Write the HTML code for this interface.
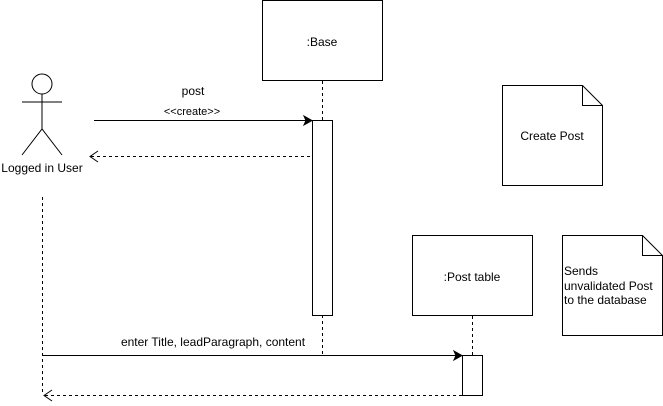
<!DOCTYPE html>
<html><head><meta charset="utf-8"><style>
html,body{margin:0;padding:0;background:#fff;}
svg{display:block;}
text{font-family:"Liberation Sans",Arial,sans-serif;font-size:12px;fill:#000;}
</style></head><body>
<svg width="663" height="406" viewBox="0 0 663 406" xmlns="http://www.w3.org/2000/svg">
<g fill="#fff" stroke="#000" stroke-width="1">
<rect x="262.5" y="0.5" width="120" height="80"/>
<rect x="412.5" y="235.5" width="120" height="80"/>
<path d="M502.5 85.5 H582.5 L602.5 105.5 V185.5 H502.5 Z"/>
<path d="M582.5 85.5 V105.5 H602.5" fill="none"/>
<path d="M562.5 235.5 H642.5 L662.5 255.5 V335.5 H562.5 Z"/>
<path d="M642.5 235.5 V255.5 H662.5" fill="none"/>
</g>
<g stroke="#000" stroke-dasharray="3,3" fill="none">
<line x1="322.5" y1="81" x2="322.5" y2="120"/>
<line x1="322.5" y1="315" x2="322.5" y2="355"/>
<line x1="472.5" y1="316" x2="472.5" y2="355"/>
<line x1="42.5" y1="197" x2="42.5" y2="395"/>
<line x1="310" y1="156.5" x2="90" y2="156.5"/>
<line x1="462" y1="395.5" x2="44" y2="395.5"/>
</g>
<g stroke="#000" fill="none">
<path d="M98 151 L90 156.5 L98 162"/>
<path d="M52 390 L44 395.5 L52 401"/>
</g>
<g fill="#fff" stroke="#000">
<rect x="312.5" y="120.5" width="20" height="195"/>
<rect x="462.5" y="355.5" width="20" height="40"/>
</g>
<g stroke="#000" fill="none">
<line x1="94" y1="120.5" x2="306" y2="120.5"/>
<line x1="43" y1="355.5" x2="456" y2="355.5"/>
</g>
<path d="M312 120.5 L304 116 L306 120.5 L304 125 Z" fill="#000" stroke="#000"/>
<path d="M462 355.5 L454 351 L456 355.5 L454 360 Z" fill="#000" stroke="#000"/>
<g stroke="#000" fill="none">
<circle cx="42" cy="84" r="10" fill="#fff"/>
<line x1="42" y1="94" x2="42" y2="129"/>
<line x1="22" y1="102" x2="62" y2="102"/>
<path d="M22 155 L42 129 L62 155"/>
</g>
<text x="322" y="46" text-anchor="middle">:Base</text>
<text x="472" y="281" text-anchor="middle">:Post table</text>
<text x="552" y="140" text-anchor="middle">Create Post</text>
<text x="564" y="275">Sends</text>
<text x="564" y="290">unvalidated Post</text>
<text x="564" y="304">to the database</text>
<text x="42" y="172" text-anchor="middle">Logged in User</text>
<text x="193" y="95" text-anchor="middle">post</text>
<text x="192" y="115" text-anchor="middle" style="font-size:11px">&lt;&lt;create&gt;&gt;</text>
<text x="213" y="346" text-anchor="middle">enter Title, leadParagraph, content</text>
</svg>
</body></html>
